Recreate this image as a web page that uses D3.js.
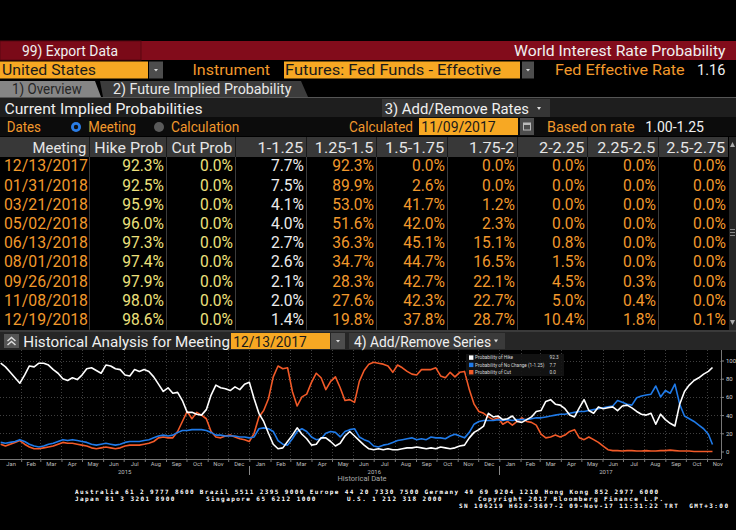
<!DOCTYPE html>
<html><head><meta charset="utf-8">
<script src="https://cdn.jsdelivr.net/npm/d3@7"></script>
<style>
html,body{margin:0;padding:0;background:#000;}
svg{display:block;}
text{font-family:Roboto,"Liberation Sans",sans-serif;}
.mono{font-family:"DejaVu Sans Mono",monospace;white-space:pre;font-weight:bold;}
</style></head><body>
<svg id="c" width="736" height="530"></svg>
<script>
// ---------------- DATA ----------------
const meetings = ["12/13/2017","01/31/2018","03/21/2018","05/02/2018","06/13/2018","08/01/2018","09/26/2018","11/08/2018","12/19/2018"];
const hikeProb = [92.3,92.5,95.9,96.0,97.3,97.4,97.9,98.0,98.6];
const cutProb  = [0.0,0.0,0.0,0.0,0.0,0.0,0.0,0.0,0.0];
const rateBuckets = ["1-1.25","1.25-1.5","1.5-1.75","1.75-2","2-2.25","2.25-2.5","2.5-2.75"];
const bucketProbs = [
  [7.7,92.3,0.0,0.0,0.0,0.0,0.0],
  [7.5,89.9,2.6,0.0,0.0,0.0,0.0],
  [4.1,53.0,41.7,1.2,0.0,0.0,0.0],
  [4.0,51.6,42.0,2.3,0.0,0.0,0.0],
  [2.7,36.3,45.1,15.1,0.8,0.0,0.0],
  [2.6,34.7,44.7,16.5,1.5,0.0,0.0],
  [2.1,28.3,42.7,22.1,4.5,0.3,0.0],
  [2.0,27.6,42.3,22.7,5.0,0.4,0.0],
  [1.4,19.8,37.8,28.7,10.4,1.8,0.1]
];

// Historical analysis for meeting 12/13/2017 (weekly readings from 2015-01-02, last = 2017-11-09)
const histStart = "2015-01-02";
const histEnd = "2017-11-09";
const hikeHist = [
  97,93,87,81,75,84,94,93,97,97,
  95,90,86,80,78,81,79,84,91,92,
  89,86,95,94,91,90,84,83,90,88,
  90,88,82,74,66,70,64,65,56,43,
  43,41,40,46,62,73,70,69,67,71,
  68,74,76,58,42,33,20,8,3,4,
  11,18,26,19,14,7,8,15,15,11,
  6,9,17,22,17,12,7,3,2,3,
  2,3,2,2,3,4,4,5,4,3,
  4,3,5,4,3,4,6,7,15,21,
  24,28,42,38,39,35,36,39,33,32,
  35,38,44,45,55,57,52,51,47,40,
  38,48,57,45,42,49,47,48,49,45,
  50,51,48,44,41,40,42,30,41,35,
  31,28,52,66,73,78,81,85,88,92.3
];
const noChangeHist = [
  10,9,10,11,13,11,8,6,5,6,
  8,9,11,13,12,13,12,11,10,8,
  7,8,9,8,7,8,10,11,11,11,
  12,13,15,17,18,17,18,21,23,23,
  24,24,24,23,21,18,18,17,17,17,
  16,16,15,16,25,26,25,22,12,8,
  7,14,22,25,22,16,13,14,20,22,
  21,16,22,24,25,16,13,11,6,5,
  7,8,10,12,13,14,15,13,14,13,
  16,15,15,14,17,19,17,15,21,30,
  33,34,34,34,35,34,35,34,35,35,
  35,36,37,37,38,39,40,41,41,42,
  43,44,44,45,46,47,48,49,50,56,
  54,52,51,59,61,62,63,72,60,67,
  64,74,52,39,36,33,29,25,19,7.7
];
const cutHist = [
  8,6,8,10,12,8,5,3,3,4,
  5,6,8,10,9,9,8,7,6,4,
  3,4,5,4,3,4,6,7,7,7,
  8,9,11,15,16,15,15,22,33,44,
  36,43,40,36,22,16,15,17,18,16,
  14,13,11,20,38,45,58,82,94,91,
  92,66,50,60,63,76,86,81,68,77,
  82,70,56,57,54,77,89,96,98,97,
  96,94,87,95,92,88,85,84,90,90,
  90,92,83,81,87,82,87,88,68,52,
  44,42,38,35,37,30,33,29,33,37,
  33,32,29,19,15,16,18,16,18,22,
  24,15,13,16,13,10,6,2,1,1,
  0.5,1,1,0.5,0.5,1,0.5,0.5,1,1,
  1.5,1,0.5,0.5,0.5,0,0,0,0,0
];
const legendLabels = ["Probability of Hike","Probability of No Change (1-1.25)","Probability of Cut"];
const legendValues = ["92.3","7.7","0.0"];
const yTicks = [0,20,40,60,80,100];
const yearLabels = [2015,2016,2017];

// ---------------- DRAW ----------------
const svg = d3.select("#c");
svg.append("rect").attr("width",736).attr("height",530).attr("fill","#000");

const FS = 15.2;
const AMBER = "#f7a823", OTXT = "#f2992c", YEL = "#ede07c", WHITE = "#f0f0f0";
function txt(x,y,s,o={}){
  const t = svg.append("text").attr("x",x).attr("y",y).text(s)
    .attr("fill",o.fill||WHITE).attr("font-size",o.size||FS)
    .attr("text-anchor",o.anchor||"start");
  if (o.w) t.attr("textLength",o.w).attr("lengthAdjust","spacingAndGlyphs");
  return t;
}
function ddArrow(x0,y0,w,h){
  svg.append("rect").attr("x",x0).attr("y",y0).attr("width",w).attr("height",h).attr("fill","#4d4d4d");
  const cx=x0+w/2, cy=y0+h/2;
  svg.append("path").attr("d",`M${cx-2},${cy-1}L${cx+2},${cy-1}L${cx},${cy+1.5}Z`).attr("fill","#ddd");
}

// Title bar
svg.append("rect").attr("x",0).attr("y",41).attr("width",736).attr("height",19).attr("fill","#820c1b");
svg.append("rect").attr("x",0).attr("y",41).attr("width",141).attr("height",19).attr("fill","#7a0a18").attr("stroke","#5a0610").attr("stroke-width",1);
txt(22,56,"99) Export Data",{w:96});
txt(514,56,"World Interest Rate Probability",{w:211.5});

// Row 2
svg.append("rect").attr("x",0).attr("y",61.5).attr("width",148).attr("height",17).attr("fill",AMBER);
txt(2,75,"United States",{fill:"#1a1a1a",w:94});
ddArrow(149,61.5,14,17);
txt(192.5,75,"Instrument",{fill:OTXT,w:77.5});
svg.append("rect").attr("x",284).attr("y",61.5).attr("width",236).attr("height",17).attr("fill",AMBER);
txt(285,75,"Futures: Fed Funds - Effective",{fill:"#1a1a1a",w:216});
ddArrow(522,61.5,12,17);
txt(555,75,"Fed Effective Rate",{fill:OTXT,w:129.7});
txt(697,75,"1.16",{w:28.3});

// Tabs
svg.append("path").attr("d","M0,81L95,81L101,97L0,97Z").attr("fill","#858585");
svg.append("path").attr("d","M100,81L301,81L308,97L103,97Z").attr("fill","#3c3c3c");
txt(12,93.5,"1) Overview",{fill:"#262626",size:14.5,w:69.7});
txt(113,93.5,"2) Future Implied Probability",{fill:"#e8e8e8",size:14.5,w:178.4});
svg.append("rect").attr("x",0).attr("y",97).attr("width",736).attr("height",1).attr("fill","#555");

// Row 4
svg.append("rect").attr("x",0).attr("y",98).attr("width",736).attr("height",19).attr("fill","#1e1e1e");
txt(4.5,113.5,"Current Implied Probabilities",{w:198});
svg.append("rect").attr("x",382).attr("y",99).attr("width",168).attr("height",18).attr("fill","#353535");
txt(384.7,113.5,"3) Add/Remove Rates",{w:144.3});
svg.append("path").attr("d","M537,107L541,107L539,110Z").attr("fill","#ddd");

// Row 5
svg.append("rect").attr("x",0).attr("y",117).attr("width",736).attr("height",19).attr("fill","#0c0c0c");
txt(6.7,132,"Dates",{fill:OTXT,w:34.3});
svg.append("circle").attr("cx",76).attr("cy",127).attr("r",5).attr("fill","#2a7de6");
svg.append("circle").attr("cx",76).attr("cy",127).attr("r",2.2).attr("fill","#101010");
txt(88.3,132,"Meeting",{fill:OTXT,w:47.7});
svg.append("circle").attr("cx",159).attr("cy",127).attr("r",5).attr("fill","#5a5a5a");
txt(171,132,"Calculation",{fill:OTXT,w:68.3});
txt(349,132,"Calculated",{fill:OTXT,w:64});
svg.append("rect").attr("x",419).attr("y",118).attr("width",99).attr("height",17).attr("fill",AMBER);
txt(421.3,132,"11/09/2017",{fill:"#1a1a1a",w:74.4});
svg.append("rect").attr("x",520).attr("y",118).attr("width",14).attr("height",17).attr("fill","#4d4d4d");
svg.append("rect").attr("x",523.5).attr("y",123).attr("width",7).attr("height",7).attr("fill","none").attr("stroke","#bbb").attr("stroke-width",1);
svg.append("rect").attr("x",523.5).attr("y",123).attr("width",7).attr("height",2).attr("fill","#bbb");
txt(547,132,"Based on rate",{fill:OTXT,w:87.7});
txt(645.3,132,"1.00-1.25",{w:58.7});

// Table
const colEdges = [0,89,166,235,306,376,447,517,587,658,728];
const headers = ["Meeting","Hike Prob","Cut Prob"].concat(rateBuckets);
const headerW = [53.7,69,60.7,45.7,58.5,59.3,45.3,45.3,58,59];
svg.append("rect").attr("x",0).attr("y",137).attr("width",728).attr("height",20).attr("fill","#383838");
headers.forEach((h,i)=>{
  txt(colEdges[i+1]-2.7,152.5,h,{anchor:"end",fill:"#e6e6e6",w:headerW[i]});
});
const rowH = 19.2, row0 = 157;
colEdges.slice(1,-1).forEach(x=>{
  svg.append("rect").attr("x",x).attr("y",137).attr("width",1).attr("height",20).attr("fill","#1a1a1a");
  svg.append("rect").attr("x",x).attr("y",157).attr("width",1).attr("height",rowH*9).attr("fill","#3a3a3a");
});
meetings.forEach((m,r)=>{
  const yb = row0 + r*rowH + 14.3;
  txt(4,yb,m,{fill:OTXT,size:15.6,w:84});
  txt(colEdges[2]-2,yb,hikeProb[r].toFixed(1)+"%",{anchor:"end",fill:YEL,size:15.6});
  txt(colEdges[3]-2,yb,cutProb[r].toFixed(1)+"%",{anchor:"end",fill:YEL,size:15.6});
  bucketProbs[r].forEach((v,c)=>{
    txt(colEdges[c+4]-2,yb,v.toFixed(1)+"%",{anchor:"end",fill:c===0?"#ececec":OTXT,size:15.6});
  });
});
// scrollbar
svg.append("rect").attr("x",729).attr("y",137).attr("width",7).attr("height",194).attr("fill","#262626");
svg.append("path").attr("d","M730,147L735,147L732.5,142Z").attr("fill","#aaa");
svg.append("path").attr("d","M730,320L735,320L732.5,325Z").attr("fill","#aaa");
[229,232,235].forEach(y=>svg.append("rect").attr("x",730).attr("y",y).attr("width",5).attr("height",1).attr("fill","#888"));
svg.append("rect").attr("x",0).attr("y",330).attr("width",736).attr("height",2).attr("fill","#3a3a3a");

// Historical bar
svg.append("rect").attr("x",0).attr("y",332).attr("width",736).attr("height",18).attr("fill","#262626");
svg.append("rect").attr("x",4).attr("y",334).attr("width",15).attr("height",14).attr("fill","#555");
svg.append("path").attr("d","M7.5,341L11.5,337.5L15.5,341M7.5,345L11.5,341.5L15.5,345").attr("fill","none").attr("stroke","#ddd").attr("stroke-width",1.5);
txt(23.3,346.5,"Historical Analysis for Meeting",{w:206.7});
svg.append("rect").attr("x",231).attr("y",333).attr("width",99).attr("height",16).attr("fill",AMBER);
txt(233.3,346.5,"12/13/2017",{fill:"#1a1a1a",w:73.4});
ddArrow(331,333,14,16);
svg.append("rect").attr("x",349).attr("y",333).attr("width",156).attr("height",16).attr("fill","#3a3a3a");
txt(354,346.5,"4) Add/Remove Series",{w:137});
svg.append("path").attr("d","M494,339.5L498,339.5L496,342.5Z").attr("fill","#ddd");

// ---- Chart ----
const parse = d3.timeParse("%Y-%m-%d");
const t0 = parse(histStart), tEnd = parse(histEnd);
const histDates = hikeHist.map((_,i)=> i===hikeHist.length-1 ? tEnd : d3.timeWeek.offset(t0,i));
const x = d3.scaleTime().domain([new Date(2015,0,1), new Date(2017,10,20)]).range([0,720]);
const y = d3.scaleLinear().domain([0,100]).range([451.5,360.5]);
const plotTop = 350, plotBot = 459, plotRight = 721;

const monthStarts = d3.timeMonth.range(new Date(2015,1,1), new Date(2017,11,1));
const g = svg.append("g");
// grid
g.selectAll(".vg").data(monthStarts).join("line")
  .attr("x1",d=>Math.round(x(d))+0.5).attr("x2",d=>Math.round(x(d))+0.5)
  .attr("y1",plotTop).attr("y2",plotBot)
  .attr("stroke","#3f3f3f").attr("stroke-dasharray","1,2");
g.selectAll(".hg").data(yTicks.filter(v=>v>0)).join("line")
  .attr("x1",0).attr("x2",plotRight).attr("y1",d=>Math.round(y(d))+0.5).attr("y2",d=>Math.round(y(d))+0.5)
  .attr("stroke","#3f3f3f").attr("stroke-dasharray","1,2");

// axes
svg.append("line").attr("x1",0).attr("x2",plotRight).attr("y1",plotBot+0.5).attr("y2",plotBot+0.5).attr("stroke","#777");
svg.append("line").attr("x1",plotRight+0.5).attr("x2",plotRight+0.5).attr("y1",plotTop).attr("y2",plotBot).attr("stroke","#777");
const xTicks = svg.append("g").attr("transform",`translate(0,${plotBot})`)
  .call(d3.axisBottom(x).tickValues(monthStarts).tickSize(3).tickFormat(""));
xTicks.select(".domain").remove();
xTicks.selectAll("line").attr("stroke","#777");
const monthMids = d3.timeMonth.range(new Date(2015,0,1), new Date(2017,11,1))
  .map(d=>new Date((+d + +d3.timeMonth.offset(d,1))/2));
const xLab = svg.append("g").attr("transform",`translate(0,${plotBot})`)
  .call(d3.axisBottom(x).tickValues(monthMids).tickSize(0).tickPadding(3).tickFormat(d3.timeFormat("%b")));
xLab.select(".domain").remove();
xLab.selectAll("text").attr("fill","#bdbdbd").attr("font-size",5.8).attr("font-family","Roboto, sans-serif");

yearLabels.forEach(yr=>{
  const a = new Date(yr,0,1), b = d3.min([new Date(yr+1,0,1), tEnd]);
  svg.append("text").attr("x",x(new Date((+a + +b)/2))).attr("y",473.5).text(yr)
    .attr("fill","#bdbdbd").attr("font-size",6).attr("text-anchor","middle");
  if (yr>2015) svg.append("line").attr("x1",Math.round(x(a))+0.5).attr("x2",Math.round(x(a))+0.5)
    .attr("y1",466).attr("y2",475).attr("stroke","#888");
});
svg.append("text").attr("x",362).attr("y",481).text("Historical Date")
  .attr("fill","#a8a8a8").attr("font-size",7.5).attr("text-anchor","middle");

const yAx = svg.append("g").attr("transform",`translate(${plotRight},0)`)
  .call(d3.axisRight(y).tickValues(yTicks).tickSize(3).tickPadding(2));
yAx.select(".domain").remove();
yAx.selectAll("line").attr("stroke","#888");
yAx.selectAll("text").attr("fill","#cfcfcf").attr("font-size",6).attr("font-family","Roboto, sans-serif");

// lines
const series = [
  {vals:cutHist, color:"#f25a28"},
  {vals:noChangeHist, color:"#1f7ae8"},
  {vals:hikeHist, color:"#ffffff"}
];
const line = d3.line().x((d,i)=>x(histDates[i])).y(d=>y(d)).curve(d3.curveLinear);
series.forEach(s=>{
  svg.append("path").attr("d",line(s.vals)).attr("fill","none")
    .attr("stroke",s.color).attr("stroke-width",1.6).attr("stroke-linejoin","round");
});

// legend
const legColors = ["#ffffff","#1f7ae8","#f25a28"];
svg.append("rect").attr("x",466).attr("y",354).attr("width",98).attr("height",22).attr("fill","#141414").attr("opacity",0.9);
legendLabels.forEach((l,i)=>{
  const cy = 357.6 + i*7.3;
  svg.append("rect").attr("x",469).attr("y",cy-2.2).attr("width",4.4).attr("height",4.4).attr("fill",legColors[i]);
  svg.append("text").attr("x",475).attr("y",cy+1.8).text(l).attr("fill","#d8d8d8").attr("font-size",4.7);
  svg.append("text").attr("x",549.5).attr("y",cy+1.8).text(legendValues[i]).attr("fill","#d8d8d8").attr("font-size",4.7);
});

// footer
const foot = [
  {x:75,y:493.5,s:"Australia 61 2 9777 8600 Brazil 5511 2395 9000 Europe 44 20 7330 7500 Germany 49 69 9204 1210 Hong Kong 852 2977 6000",w:583},
  {x:75,y:500.5,s:"Japan 81 3 3201 8900      Singapore 65 6212 1000      U.S. 1 212 318 2000       Copyright 2017 Bloomberg Finance L.P.",w:588},
  {x:459,y:507.5,s:"SN 106219 H628-3607-2 09-Nov-17 11:31:22 TRT  GMT+3:00",w:269}
];
foot.forEach(f=>{
  svg.append("text").attr("class","mono").attr("x",f.x).attr("y",f.y).text(f.s)
    .attr("fill","#fff").attr("font-size",6).attr("xml:space","preserve")
    .attr("textLength",f.w).attr("lengthAdjust","spacing");
});
</script>
</body></html>
